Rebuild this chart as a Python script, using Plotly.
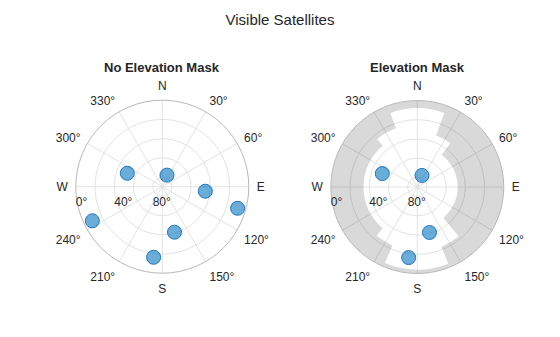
import plotly.graph_objects as go

# Satellite positions (azimuth deg clockwise from N, elevation deg)
sat_az = [291, 22, 96, 106, 165, 187, 244]
sat_el = [51, 77, 45, 8.5, 41, 16, 9]

# Elevation mask (azimuth sector edges and mask elevation for each sector)
mask_az_start = [-20, 20, 37, 140, 158, 203, 220, 320]
mask_az_end = [20, 37, 140, 158, 203, 220, 320, 340]
mask_el = [8, 33, 48, 23, 4, 24, 34, 25]

# Tick labels
az_ticks = [0, 30, 60, 90, 120, 150, 180, 210, 240, 270, 300, 330]
az_labels = ["N", "30°", "60°", "E", "120°", "150°", "S", "210°", "240°", "W", "300°", "330°"]
el_ticks = [0, 20, 40, 60, 80]
el_labels = ["0°", "", "40°", "", "80°"]

FONT = "Liberation Sans, Arial, Helvetica, sans-serif"
TXT = "#262626"
W, H = 560, 337

def visible(az, el, m_start, m_end, m_el):
    out_az, out_el = [], []
    for a, e in zip(az, el):
        masked = False
        for s, t, me in zip(m_start, m_end, m_el):
            aa = a if a >= s else a + 360
            if s <= aa < t and e < me:
                masked = True
        if not masked:
            out_az.append(a)
            out_el.append(e)
    return out_az, out_el

fig = go.Figure()

centers = [(s + t) / 2 for s, t in zip(mask_az_start, mask_az_end)]
widths = [t - s for s, t in zip(mask_az_start, mask_az_end)]
fig.add_trace(go.Barpolar(
    theta=centers, r=mask_el, base=[0] * len(mask_el), width=widths,
    marker=dict(color="rgba(0,0,0,0.15)", line=dict(width=0)),
    subplot="polar2", hoverinfo="skip", showlegend=False,
))

marker = dict(size=14, color="rgba(0,114,189,0.58)", line=dict(color="#1f77c4", width=1))
fig.add_trace(go.Scatterpolar(theta=sat_az, r=sat_el, mode="markers", marker=marker,
                              subplot="polar", showlegend=False))
vaz, vel = visible(sat_az, sat_el, mask_az_start, mask_az_end, mask_el)
fig.add_trace(go.Scatterpolar(theta=vaz, r=vel, mode="markers", marker=marker,
                              subplot="polar2", showlegend=False))

R = 86.5
def dom(cx, cy):
    return dict(x=[(cx - R) / W, (cx + R) / W], y=[1 - (cy + R) / H, 1 - (cy - R) / H])

def polar_layout(cx, cy):
    return dict(
        domain=dom(cx, cy),
        bgcolor="white",
        bargap=0,
        angularaxis=dict(rotation=90, direction="clockwise", tickmode="array",
                         tickvals=az_ticks, ticktext=az_labels, showgrid=True,
                         gridcolor="#e3e3e3", gridwidth=1, showline=True,
                         linecolor="#b8b8b8", linewidth=1, ticks="outside",
                         ticklen=5, tickcolor="rgba(0,0,0,0)",
                         tickfont=dict(family=FONT, size=12, color=TXT)),
        radialaxis=dict(range=[90, 0], tickmode="array", tickvals=el_ticks,
                        ticktext=el_labels, angle=180, side="counterclockwise",
                        tickangle=180, showline=False, showgrid=True, gridcolor="#e3e3e3",
                        ticks="outside", ticklen=2, tickcolor="rgba(0,0,0,0)",
                        tickfont=dict(family=FONT, size=12, color=TXT)),
    )

fig.update_layout(
    width=W, height=H,
    margin=dict(l=0, r=0, t=0, b=0),
    paper_bgcolor="white",
    font=dict(family=FONT, color=TXT),
    title=dict(text="Visible Satellites", x=0.5, xanchor="center",
               y=1 - 20 / H, yanchor="middle", yref="container",
               font=dict(family=FONT, size=15, color=TXT)),
    polar=polar_layout(162.3, 186.7),
    polar2=polar_layout(417.3, 187),
    annotations=[
        dict(text="<b>No Elevation Mask</b>", x=162.3 / W, y=1 - 68 / H, xref="paper",
             yref="paper", showarrow=False, xanchor="center", yanchor="middle",
             font=dict(family=FONT, size=13, color=TXT)),
        dict(text="<b>Elevation Mask</b>", x=417.3 / W, y=1 - 68 / H, xref="paper",
             yref="paper", showarrow=False, xanchor="center", yanchor="middle",
             font=dict(family=FONT, size=13, color=TXT)),
    ],
)

fig.write_html("out.html")
